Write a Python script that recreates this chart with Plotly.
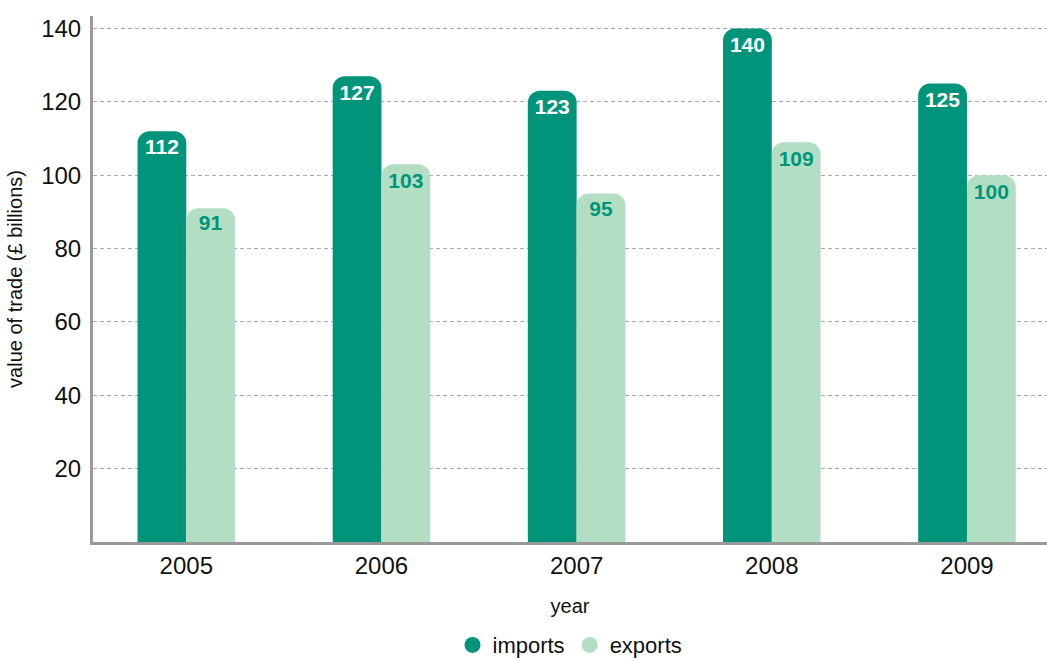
import plotly.graph_objects as go

# Trade values by year (£ billions)
years = ["2005", "2006", "2007", "2008", "2009"]
imports = [112, 127, 123, 140, 125]
exports = [91, 103, 95, 109, 100]
y_ticks = [20, 40, 60, 80, 100, 120, 140]

TEAL = "#00957B"
MINT = "#B3DEC3"
FONT = "Liberation Sans, Arial, sans-serif"

fig = go.Figure()

fig.add_trace(go.Bar(
    name="imports", x=years, y=imports,
    marker=dict(color=TEAL, line=dict(width=0), cornerradius=12),
    text=imports, texttemplate="<b>%{text}</b>",
    textposition="inside", insidetextanchor="end", textangle=0,
    constraintext="none",
    textfont=dict(family=FONT, size=21, color="white"),
    showlegend=False, hoverinfo="x+y",
))
fig.add_trace(go.Bar(
    name="exports", x=years, y=exports,
    marker=dict(color=MINT, line=dict(width=0), cornerradius=12),
    text=exports, texttemplate="<b>%{text}</b>",
    textposition="inside", insidetextanchor="end", textangle=0,
    constraintext="none",
    textfont=dict(family=FONT, size=21, color=TEAL),
    showlegend=False, hoverinfo="x+y",
))

# Circular legend swatches
for name, color in (("imports", TEAL), ("exports", MINT)):
    fig.add_trace(go.Scatter(
        name=name, x=[None], y=[None], mode="markers",
        marker=dict(symbol="circle", size=17, color=color),
        showlegend=True,
    ))

fig.update_layout(
    width=1047, height=661,
    margin=dict(l=93, r=0, t=16, b=119, autoexpand=False),
    paper_bgcolor="white", plot_bgcolor="white",
    barmode="group", bargap=0.5, bargroupgap=0,
    font=dict(family=FONT, color="#111111"),
    legend=dict(
        orientation="h", x=0.5, xanchor="center", y=-0.196, yanchor="middle",
        font=dict(family=FONT, size=22, color="#111111"),
        itemwidth=30, tracegroupgap=0,
    ),
    xaxis=dict(
        range=[-0.478, 4.41],
        showline=True, linecolor="#999999", linewidth=3,
        showgrid=False, ticks="",
        tickfont=dict(family=FONT, size=24, color="#111111"),
        title=dict(text="year", font=dict(family=FONT, size=20, color="#111111"), standoff=22),
    ),
    yaxis=dict(
        range=[0, 143.4],
        tickvals=y_ticks,
        showline=True, linecolor="#999999", linewidth=3,
        showgrid=True, gridcolor="#AAAAAA", gridwidth=1, griddash="4px,3px",
        zeroline=False, ticks="",
        tickfont=dict(family=FONT, size=24, color="#111111"),
        ticklabelstandoff=4,
        title=dict(text="value of trade (£ billions)",
                   font=dict(family=FONT, size=20, color="#111111"), standoff=14),
    ),
)

fig.write_html("out.html")
